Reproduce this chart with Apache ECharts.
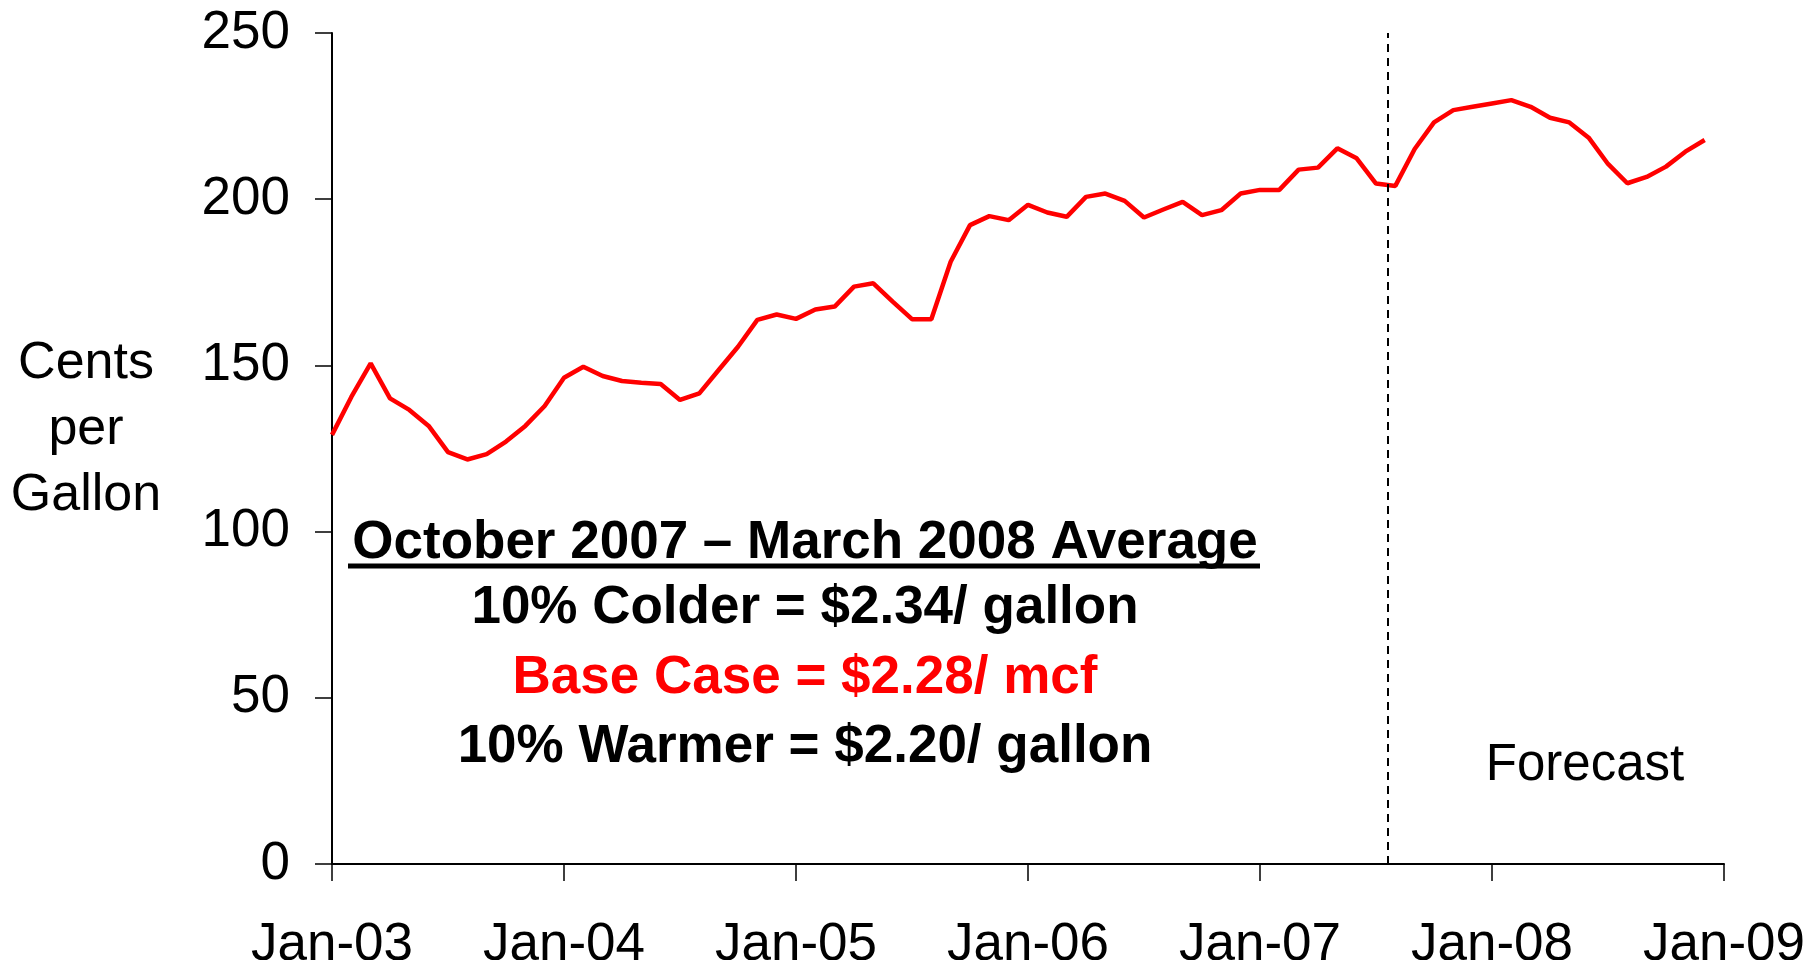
<!DOCTYPE html>
<html>
<head>
<meta charset="utf-8">
<title>Heating oil price</title>
<script src="https://cdn.jsdelivr.net/npm/echarts@6/dist/echarts.min.js"></script>
<style>
    html, body { margin: 0; padding: 0; background: #fff; }
    #priceChart { width: 1806px; height: 960px; }
</style>
</head>
<body>
<div id="priceChart"></div>
<script>
// monthly price, Jan-03 .. Dec-08 (cents per gallon)
var price = [
    129.1, 140.5, 150.6, 140.1, 136.6, 131.8, 123.9, 121.7, 123.3, 127.1, 131.8, 137.8,
    146.3, 149.6, 146.8, 145.3, 144.8, 144.4, 139.6, 141.6, 148.6, 155.6, 163.7, 165.3,
    164.0, 166.8, 167.7, 173.7, 174.7, 169.2, 163.9, 163.9, 181.2, 192.2, 194.9, 193.7,
    198.3, 196.0, 194.7, 200.7, 201.7, 199.5, 194.5, 196.9, 199.2, 195.2, 196.7, 201.7,
    202.8, 202.8, 208.9, 209.5, 215.3, 212.3, 204.7, 204.0, 215.1, 223.1, 226.8, 227.8,
    228.8, 229.8, 227.8, 224.5, 223.1, 218.5, 210.6, 204.8, 206.7, 209.8, 214.3, 217.8
];
var tickLabels = ['Jan-03', 'Jan-04', 'Jan-05', 'Jan-06', 'Jan-07', 'Jan-08', 'Jan-09'];
var forecastStart = 54.6; // month index where the forecast begins
var notes = [
    { text: 'October 2007 \u2013 March 2008 Average', color: '#000' },
    { text: '10% Colder = $2.34/ gallon', color: '#000' },
    { text: 'Base Case = $2.28/ mcf', color: '#ff0000' },
    { text: '10% Warmer = $2.20/ gallon', color: '#000' }
];

function priceChart() {
    var myChart = echarts.init(document.getElementById('priceChart'));
    var font = 'Liberation Sans, Arial, sans-serif';

    var seriesData = price.map(function (v, i) { return [i, v]; });

    var noteY = [543, 608, 678, 747];
    var graphics = notes.map(function (n, i) {
        return {
            type: 'text',
            x: 805, y: noteY[i],
            style: {
                text: n.text,
                fill: n.color,
                font: 'bold 53px ' + font,
                textAlign: 'center',
                textVerticalAlign: 'middle'
            }
        };
    });
    // underline for the heading
    graphics.push({
        type: 'line',
        shape: { x1: 348, y1: 566, x2: 1260, y2: 566 },
        style: { stroke: '#000', lineWidth: 5 }
    });
    // y axis title
    graphics.push({
        type: 'text',
        x: 86, y: 430,
        style: {
            text: 'Cents\nper\nGallon',
            fill: '#000',
            font: '52px ' + font,
            lineHeight: 66,
            textAlign: 'center',
            textVerticalAlign: 'middle'
        }
    });
    graphics.push({
        type: 'text',
        x: 1585, y: 766,
        style: {
            text: 'Forecast',
            fill: '#000',
            font: '51px ' + font,
            textAlign: 'center',
            textVerticalAlign: 'middle'
        }
    });

    var option = {
        backgroundColor: '#fff',
        animation: false,
        grid: {
            left: 332,
            right: 82,
            top: 33,
            bottom: 96,
            containLabel: false,
            outerBoundsMode: 'none'
        },
        xAxis: {
            type: 'value',
            min: 0,
            max: 72,
            interval: 12,
            axisLine: { lineStyle: { color: '#000', width: 2 } },
            axisTick: { show: true, inside: false, length: 17, lineStyle: { color: '#000', width: 1.5 } },
            axisLabel: {
                color: '#000',
                fontSize: 53,
                fontFamily: font,
                margin: 55,
                formatter: function (v) { return tickLabels[v / 12]; }
            },
            splitLine: { show: false }
        },
        yAxis: {
            type: 'value',
            min: 0,
            max: 250,
            interval: 50,
            axisLine: { show: true, lineStyle: { color: '#000', width: 2 } },
            axisTick: { show: true, inside: false, length: 17, lineStyle: { color: '#000', width: 1.5 } },
            axisLabel: {
                color: '#000',
                fontSize: 53,
                fontFamily: font,
                margin: 42
            },
            splitLine: { show: false }
        },
        series: [{
            name: 'Price',
            type: 'line',
            data: seriesData,
            symbol: 'none',
            lineStyle: { color: '#ff0000', width: 4.5 },
            markLine: {
                silent: true,
                symbol: 'none',
                label: { show: false },
                lineStyle: { color: '#000', type: [8, 6], width: 2 },
                data: [{ xAxis: forecastStart }]
            }
        }],
        graphic: graphics
    };

    myChart.setOption(option);
    window.addEventListener('resize', function () {
        myChart.resize();
    });
}

priceChart();
</script>
</body>
</html>
